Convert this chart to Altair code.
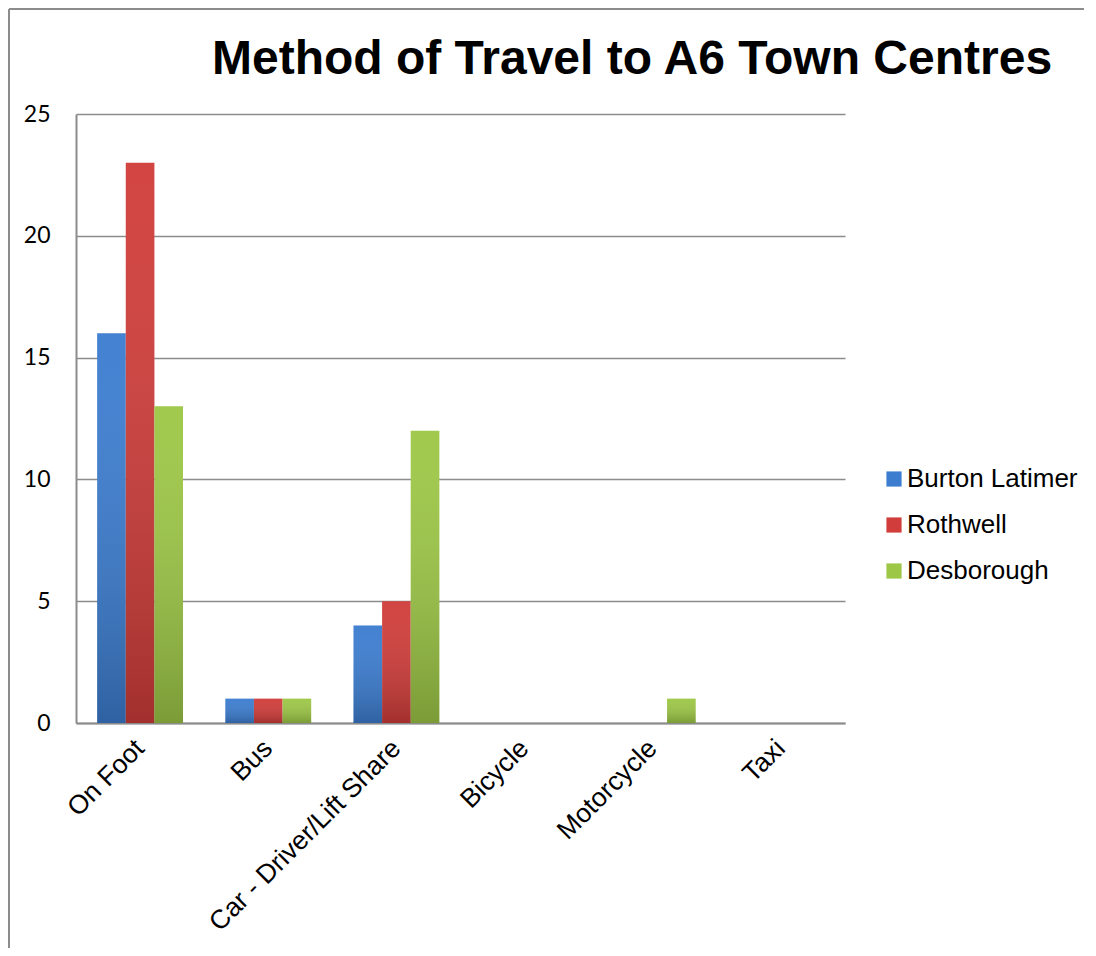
import altair as alt
import pandas as pd

categories = ["On Foot", "Bus", "Car - Driver/Lift Share", "Bicycle", "Motorcycle", "Taxi"]
series = ["Burton Latimer", "Rothwell", "Desborough"]
burton = [16, 1, 4, 0, 0, 0]
rothwell = [23, 1, 5, 0, 0, 0]
desborough = [13, 1, 12, 0, 1, 0]
colors = ["#3c7dd0", "#d03d3a", "#9dc746"]

rows = []
for name, vals in zip(series, [burton, rothwell, desborough]):
    for c, v in zip(categories, vals):
        rows.append({"Method": c, "Town": name, "Count": v})
df = pd.DataFrame(rows)

FONT = "Liberation Sans"

x = alt.X("Method:N", sort=categories, title=None,
          scale=alt.Scale(paddingInner=0.33, paddingOuter=0.165),
          axis=alt.Axis(labelAngle=-45, labelAlign="right", labelBaseline="middle",
                        labelFont=FONT, labelFontSize=26.5, labelColor="black",
                        labelPadding=21, ticks=False, domainColor="#8c8c8c",
                        domainWidth=2, grid=False, labelLimit=400))
xo = alt.XOffset("Town:N", sort=series, scale=alt.Scale(paddingInner=0, paddingOuter=0))
y = alt.Y("Count:Q", title=None,
          scale=alt.Scale(domain=[0, 25], nice=False),
          axis=alt.Axis(values=[0, 5, 10, 15, 20, 25], ticks=False, labelFont="Lato",
                        labelFontSize=23, labelColor="black", labelPadding=26,
                        domainColor="#8c8c8c", domainWidth=2, gridColor="#8c8c8c",
                        gridWidth=1.5))

base = alt.Chart(df)
bars = base.mark_bar().encode(
    x=x, xOffset=xo, y=y,
    color=alt.Color("Town:N", sort=series,
                    scale=alt.Scale(domain=series, range=colors),
                    legend=alt.Legend(title=None, orient="none", legendX=805, legendY=352,
                                      labelFont=FONT, labelFontSize=26, labelColor="black",
                                      symbolType="square", symbolSize=230, symbolStrokeWidth=0,
                                      rowPadding=20, labelOffset=0, labelLimit=400))
)
shade = base.mark_bar(fill=alt.Gradient(
    gradient="linear", x1=0, x2=0, y1=0, y2=1,
    stops=[alt.GradientStop(color="rgba(255,255,255,0.04)", offset=0),
           alt.GradientStop(color="rgba(0,0,0,0.22)", offset=1)])).encode(
    x=x, xOffset=xo, y=y
)

frame_df = pd.DataFrame({"k": [0]})
left_border = alt.Chart(frame_df).mark_rule(color="#8c8c8c", strokeWidth=2, clip=False).encode(
    x=alt.value(-67), y=alt.value(-105), y2=alt.value(860))
top_border = alt.Chart(frame_df).mark_rule(color="#8c8c8c", strokeWidth=2, clip=False).encode(
    x=alt.value(-67), x2=alt.value(1030), y=alt.value(-105))

chart = alt.layer(left_border, top_border, bars, shade).properties(
    width=769, height=609,
    autosize=alt.AutoSizeParams(type="none"),
    padding={"left": 68, "top": 106, "right": 239, "bottom": 225},
    background="white",
    title=alt.TitleParams("Method of Travel to A6 Town Centres", font=FONT, fontSize=48,
                          fontWeight="bold", color="black", anchor="start", dx=204,
                          baseline="alphabetic", offset=42, dy=156),
).configure_view(stroke=None)

chart.save("out.html", embed_options={"renderer": "svg", "actions": False})
